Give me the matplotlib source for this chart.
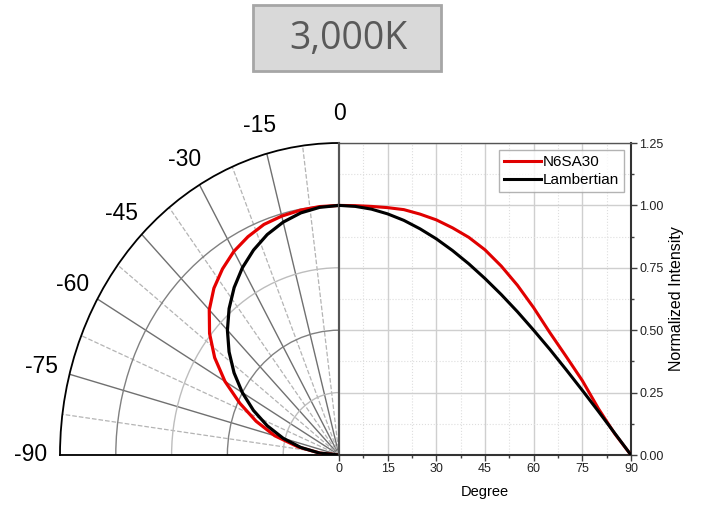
import numpy as np
import matplotlib.pyplot as plt
from matplotlib.patches import Rectangle

# intensity vs. angle
degrees = [0, 5, 10, 15, 20, 25, 30, 35, 40, 45, 50, 55, 60, 65, 70, 75, 80, 85, 90]
n6sa30 = [1.000, 0.999, 0.996, 0.991, 0.983, 0.965, 0.942, 0.910, 0.872, 0.822,
          0.757, 0.680, 0.590, 0.490, 0.395, 0.298, 0.185, 0.085, 0.000]
lambertian = [1.000, 0.996, 0.985, 0.966, 0.940, 0.906, 0.866, 0.819, 0.766, 0.707,
              0.643, 0.574, 0.500, 0.423, 0.342, 0.259, 0.174, 0.087, 0.000]

polar_ticks = [0, -15, -30, -45, -60, -75, -90]
x_ticks = [0, 15, 30, 45, 60, 75, 90]
y_ticks = [0.0, 0.25, 0.5, 0.75, 1.0, 1.25]

plt.rcParams['font.family'] = ['Liberation Sans', 'DejaVu Sans']

fig = plt.figure(figsize=(7.01, 5.09), dpi=100)

# left: quarter polar plot (mirrored data)
axp = fig.add_axes([60/701, 54/509, 279/701, 312/509], projection='polar')
axp.set_theta_zero_location('N')
axp.set_theta_direction(-1)
axp.set_thetamin(-90)
axp.set_thetamax(0)
axp.set_aspect('auto')
axp.set_rlim(0, 1.25)

axp.set_xticks(np.deg2rad(polar_ticks))
axp.set_xticklabels([str(t) for t in polar_ticks], fontsize=16.5)
axp.set_xticks(np.deg2rad(np.arange(-82.5, 0, 15)), minor=True)
axp.set_yticks([0.5, 1.0])
axp.set_yticks([0.25, 0.75], minor=True)
axp.set_yticklabels([])
axp.tick_params(axis='x', which='both', direction='in', length=5, width=1, color='k', pad=14)
axp.tick_params(axis='y', which='both', length=0)

axp.xaxis.grid(True, which='major', color='#707070', lw=1.0, ls='-')
axp.xaxis.grid(True, which='minor', color='#b4b4b4', lw=0.9, ls='--')
axp.yaxis.grid(True, which='major', color='#808080', lw=1.0)
axp.yaxis.grid(True, which='minor', color='#bdbdbd', lw=1.0)

axp.spines['polar'].set_color('black')
axp.spines['polar'].set_linewidth(1.3)
axp.spines['start'].set_color('black')
axp.spines['start'].set_linewidth(1.3)
axp.spines['end'].set_color('#555555')
axp.spines['end'].set_linewidth(1.5)

theta = np.deg2rad(-np.array(degrees))
axp.plot(theta, n6sa30, color='#e60000', lw=2.3, zorder=5)
axp.plot(theta, lambertian, color='black', lw=2.3, zorder=6)

# right: cartesian plot
axc = fig.add_axes([339/701, 54/509, 292/701, 312/509])
axc.plot(degrees, n6sa30, color='#e00000', lw=2.2, label='N6SA30', zorder=5)
axc.plot(degrees, lambertian, color='black', lw=2.2, label='Lambertian', zorder=6)
axc.set_xlim(0, 90)
axc.set_ylim(0, 1.25)
axc.set_xticks(x_ticks)
axc.set_yticks(y_ticks)
axc.set_yticklabels(['%.2f' % v for v in y_ticks])
axc.set_xticks(np.arange(7.5, 90, 15), minor=True)
axc.set_yticks(np.arange(0.125, 1.25, 0.25), minor=True)
axc.yaxis.tick_right()
axc.yaxis.set_label_position('right')
axc.tick_params(which='both', direction='out', labelsize=9, color='#404040', labelcolor='#222222', width=1)
axc.tick_params(which='major', length=4, pad=2)
axc.tick_params(which='minor', length=2.5)

axc.grid(True, which='major', color='#cfcfcf', lw=1.0)
axc.grid(True, which='minor', color='#dedede', lw=0.8, ls=':')
axc.set_axisbelow(True)

axc.spines['left'].set_color('#555555')
axc.spines['left'].set_linewidth(1.5)
axc.spines['right'].set_color('#333333')
axc.spines['right'].set_linewidth(1.5)
axc.spines['bottom'].set_color('#333333')
axc.spines['bottom'].set_linewidth(1.5)
axc.spines['top'].set_color('#555555')
axc.spines['top'].set_linewidth(1.0)

axc.set_xlabel('Degree', fontsize=10.5, labelpad=7)
axc.set_ylabel('Normalized Intensity', fontsize=11.5, labelpad=4)

axc.legend(loc='upper right', fontsize=11, frameon=True, fancybox=False, edgecolor='#a0a0a0',
           handlelength=2.4, handletextpad=0.1, labelspacing=0.25, borderaxespad=0.45,
           borderpad=0.35)

# title box
fig.add_artist(Rectangle((253/701, 1 - 71/509), 188/701, 66/509, transform=fig.transFigure,
                         facecolor='#d9d9d9', edgecolor='#a6a6a6', lw=2))
fig.text(348/701, 1 - 39/509, '3,000K', ha='center', va='center', fontsize=27,
         color='#595959', family='Open Sans')

fig.savefig('out.png', dpi=100)
